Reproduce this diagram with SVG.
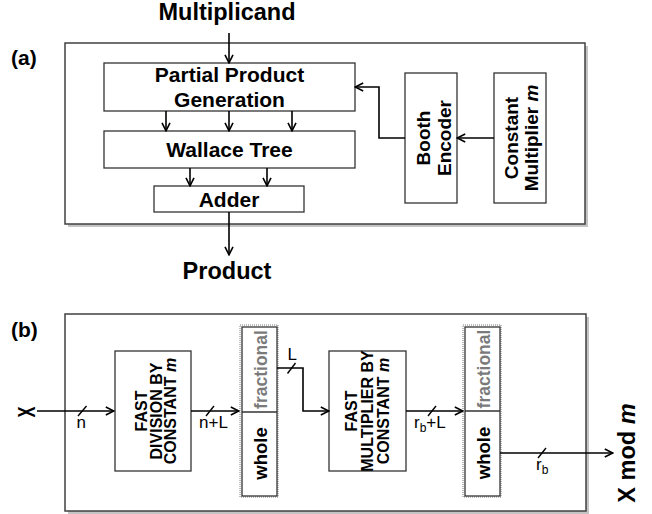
<svg xmlns="http://www.w3.org/2000/svg" width="652" height="514" viewBox="0 0 652 514">
<defs>
<marker id="arr" viewBox="0 0 10 10" refX="9.2" refY="5" markerWidth="10" markerHeight="10" markerUnits="userSpaceOnUse" orient="auto">
<path d="M1,1 L9,5 L1,9" fill="none" stroke="#000" stroke-width="1.6"/>
</marker>
</defs>
<style>
text{font-family:"Liberation Sans",Arial,sans-serif;fill:#000}
.b{font-weight:bold}
.big{font-size:23.5px;font-weight:bold}
.lbl{font-size:21px;font-weight:bold}
.box{fill:#fff;stroke:#333;stroke-width:1.3}
.panel{fill:#fff;stroke:#404040;stroke-width:1.5}
.shadow{fill:#c4c4c4}
.dot{fill:none;stroke:#bdbdbd;stroke-width:2;stroke-dasharray:1 1}
.w{fill:none;stroke:#000;stroke-width:1.6}
.arr{fill:none;stroke:#000;stroke-width:1.6;marker-end:url(#arr)}
.sl{stroke:#000;stroke-width:1.4}
.n{font-size:17px}
.sub{font-size:12px}
.v{font-size:19px;font-weight:bold}
.vs{font-size:16px;font-weight:bold}
.frac{font-size:17.5px;font-weight:bold;fill:#7a7a7a}
.whole{font-size:18.5px;font-weight:bold}
</style>

<g id="panel-a">
<rect class="shadow" x="68" y="46" width="520" height="181"/>
<rect class="panel" x="65" y="43" width="520" height="181"/>
</g>
<g id="panel-b">
<rect class="shadow" x="68" y="317" width="521" height="197"/>
<rect class="panel" x="65" y="314" width="521" height="197"/>
</g>

<g id="labels">
<text class="big" x="227" y="20" text-anchor="middle">Multiplicand</text>
<text class="big" x="227" y="279" text-anchor="middle">Product</text>
<text class="b" x="11" y="65" font-size="21">(a)</text>
<text class="b" x="11" y="337" font-size="21">(b)</text>
<text class="big" transform="translate(35,412) rotate(-90) scale(0.7,1)" text-anchor="middle">X</text>
<text class="big" transform="translate(635,453) rotate(-90)" text-anchor="middle">X mod <tspan font-style="italic">m</tspan></text>
</g>

<g id="ppg">
<rect class="box" x="104" y="63" width="251" height="48"/>
<text class="lbl" x="229.5" y="82" text-anchor="middle">Partial Product</text>
<text class="lbl" x="229.5" y="106.5" text-anchor="middle">Generation</text>
</g>
<g id="wallace">
<rect class="box" x="104" y="131" width="251" height="37"/>
<text class="lbl" x="229.5" y="157" text-anchor="middle">Wallace Tree</text>
</g>
<g id="adder">
<rect class="box" x="154" y="186" width="150" height="26"/>
<text class="lbl" x="229" y="207" text-anchor="middle" font-size="20">Adder</text>
</g>
<g id="booth">
<rect class="box" x="405" y="73" width="52" height="130"/>
<text class="v" transform="translate(430,138) rotate(-90)" text-anchor="middle">Booth</text>
<text class="v" transform="translate(451,138) rotate(-90)" text-anchor="middle">Encoder</text>
</g>
<g id="constmult">
<rect class="box" x="494" y="73" width="52" height="130"/>
<text class="v" transform="translate(517.5,138) rotate(-90)" text-anchor="middle">Constant</text>
<text class="v" transform="translate(538,138) rotate(-90)" text-anchor="middle">Multiplier <tspan font-style="italic">m</tspan></text>
</g>

<g id="fastdiv">
<rect class="box" x="115" y="351" width="76" height="120"/>
<text class="vs" transform="translate(147,411) rotate(-90)" text-anchor="middle">FAST</text>
<text class="vs" transform="translate(161.5,411) rotate(-90)" text-anchor="middle">DIVISION BY</text>
<text class="vs" transform="translate(176,411) rotate(-90)" text-anchor="middle">CONSTANT <tspan font-style="italic">m</tspan></text>
</g>
<g id="split1">
<rect class="dot" x="240" y="325" width="38" height="172"/>
<rect class="box" x="242" y="327" width="35" height="169"/>
<line x1="242" y1="412" x2="277" y2="412" stroke="#333" stroke-width="1.3"/>
<text class="frac" transform="translate(266.5,369.5) rotate(-90)" text-anchor="middle">fractional</text>
<text class="whole" transform="translate(266.5,453.5) rotate(-90)" text-anchor="middle">whole</text>
</g>
<g id="fastmult">
<rect class="box" x="329" y="351" width="77" height="120"/>
<text class="vs" transform="translate(357,411) rotate(-90)" text-anchor="middle">FAST</text>
<text class="vs" transform="translate(373,411) rotate(-90)" text-anchor="middle">MULTIPLIER BY</text>
<text class="vs" transform="translate(389,411) rotate(-90)" text-anchor="middle">CONSTANT <tspan font-style="italic">m</tspan></text>
</g>
<g id="split2">
<rect class="dot" x="463" y="325" width="38" height="172"/>
<rect class="box" x="465" y="327" width="35" height="169"/>
<line x1="465" y1="411" x2="500" y2="411" stroke="#333" stroke-width="1.3"/>
<text class="frac" transform="translate(489.5,369) rotate(-90)" text-anchor="middle">fractional</text>
<text class="whole" transform="translate(489.5,453) rotate(-90)" text-anchor="middle">whole</text>
</g>

<g id="connectors">
<path class="arr" d="M229,33 V63"/>
<path class="arr" d="M166,111 V131"/>
<path class="arr" d="M229,111 V131"/>
<path class="arr" d="M292,111 V131"/>
<path class="arr" d="M190,168 V186"/>
<path class="arr" d="M267,168 V186"/>
<path class="arr" d="M229,212 V255"/>
<path class="arr" d="M494,138 H457"/>
<path class="arr" d="M405,138 H379 V87 H355"/>

<path class="arr" d="M37,411 H114"/>
<line class="sl" x1="78" y1="416" x2="86.5" y2="406"/>
<text class="n" x="76.5" y="428">n</text>

<path class="arr" d="M191,411 H239"/>
<line class="sl" x1="206" y1="416" x2="214" y2="406"/>
<text class="n" x="199" y="428">n+L</text>

<path class="arr" d="M277,368 H303 V411 H329" stroke-width="2"/>
<line class="sl" x1="287.5" y1="373.5" x2="295.5" y2="363"/>
<text class="n" x="287.5" y="360">L</text>

<path class="arr" d="M406,411 H463"/>
<line class="sl" x1="428" y1="416" x2="436" y2="406"/>
<text class="n" x="414" y="427.5">r<tspan class="sub" dy="4">b</tspan><tspan dy="-4">+L</tspan></text>

<path class="arr" d="M500,453 H613"/>
<line class="sl" x1="538" y1="458" x2="546" y2="448"/>
<text class="n" x="536" y="470">r<tspan class="sub" dy="4">b</tspan></text>
</g>
</svg>
